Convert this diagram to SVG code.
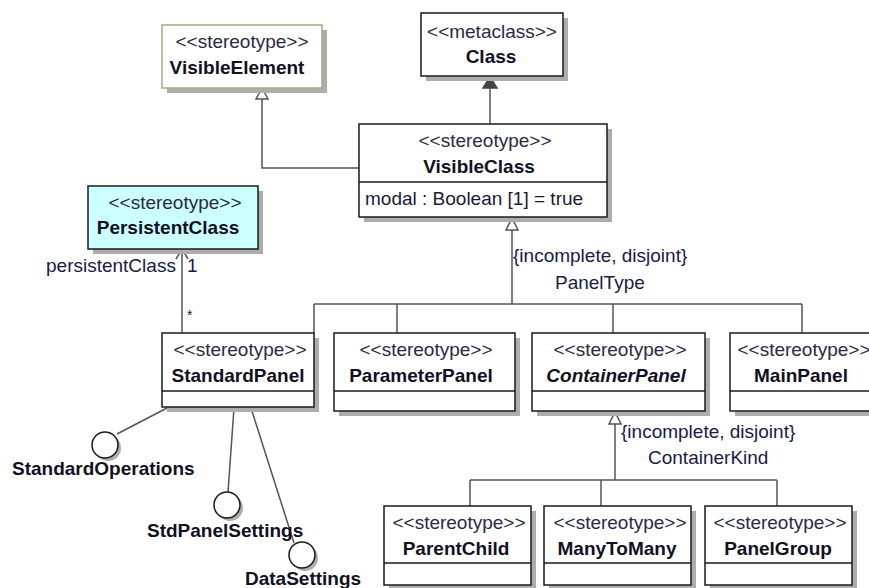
<svg xmlns="http://www.w3.org/2000/svg" width="869" height="588" viewBox="0 0 869 588">
  <style>
    text { font-family: "Liberation Sans", Arial, sans-serif; font-size: 19px; fill: #1a1a33; }
    .st { fill: #2a2a44; text-anchor: middle; }
    .nm { font-weight: bold; fill: #111122; text-anchor: middle; }
    .it { font-style: italic; }
    .lbl { fill: #1a1a44; }
    .ifc { font-weight: bold; fill: #111122; }
    .box { fill: #ffffff; stroke: #1a1a1a; stroke-width: 1.5; }
    .shadow { fill: #adadad; }
    .div { stroke: #1a1a1a; stroke-width: 1.5; }
    .conn { fill: none; stroke: #555555; stroke-width: 1.5; }
    .hollow { fill: #ffffff; stroke: #555555; stroke-width: 1.5; }
    .solid { fill: #444444; stroke: #444444; stroke-width: 1.5; }
    .lolli { fill: #ffffff; stroke: #1a1a1a; stroke-width: 1.5; }
  </style>

  <!-- connectors -->
  <g id="connectors">
    <!-- VisibleClass generalizes VisibleElement -->
    <path class="conn" d="M359,168 H262 V99"/>
    <path class="hollow" d="M262,88 L256,99 L268,99 Z"/>
    <!-- VisibleClass extends metaclass Class -->
    <path class="conn" d="M490,124 V88"/>
    <path class="solid" d="M490,77 L483,88 L497,88 Z"/>
    <!-- PanelType generalization set -->
    <path class="conn" d="M512,230 V304 M314,304 H802 M314,304 V333 M397,304 V333 M613,304 V333 M802,304 V333"/>
    <path class="hollow" d="M512,218 L506,230 L518,230 Z"/>
    <!-- ContainerKind generalization set -->
    <path class="conn" d="M615,424 V480 M470,480 H777 M470,480 V506 M601,480 V506 M777,480 V506"/>
    <path class="hollow" d="M615,412 L609,424 L621,424 Z"/>
    <!-- association StandardPanel -> PersistentClass -->
    <path class="conn" d="M182,333 V249 M176,259 L182,249 L188,259"/>
    <!-- provided interfaces -->
    <path class="conn" d="M167,408 L117,434 M234,408 L228,492 M251,408 L294,543"/>
  </g>

  <!-- association / generalization set labels -->
  <g id="labels">
    <text class="lbl" x="46" y="272">persistentClass</text>
    <text class="lbl" x="187" y="272">1</text>
    <text class="lbl" x="187" y="320" style="font-size:14px">*</text>
    <text class="lbl" x="513" y="262">{incomplete, disjoint}</text>
    <text class="lbl" x="555" y="289">PanelType</text>
    <text class="lbl" x="621" y="438">{incomplete, disjoint}</text>
    <text class="lbl" x="648" y="464">ContainerKind</text>
  </g>

  <g id="VisibleElement">
    <rect class="shadow" x="167" y="30" width="160" height="63"/>
    <rect class="box" x="162" y="25" width="160" height="63" style="stroke:#a9a97e"/>
    <text class="st" x="242" y="48">&lt;&lt;stereotype&gt;&gt;</text>
    <text class="nm" x="237" y="74">VisibleElement</text>
  </g>

  <g id="Class">
    <rect class="shadow" x="426" y="18" width="142" height="63"/>
    <rect class="box" x="421" y="13" width="142" height="63"/>
    <text class="st" x="492" y="38">&lt;&lt;metaclass&gt;&gt;</text>
    <text class="nm" x="491" y="63">Class</text>
  </g>

  <g id="VisibleClass">
    <rect class="shadow" x="364" y="129" width="248" height="93"/>
    <rect class="box" x="359" y="124" width="248" height="93"/>
    <line class="div" x1="359" y1="182" x2="607" y2="182"/>
    <text class="st" x="485" y="147">&lt;&lt;stereotype&gt;&gt;</text>
    <text class="nm" x="479" y="173">VisibleClass</text>
    <text x="365" y="205">modal : Boolean [1] = true</text>
  </g>

  <g id="PersistentClass">
    <rect class="shadow" x="93" y="191" width="170" height="63"/>
    <rect class="box" x="88" y="186" width="170" height="63" style="fill:#ccffff"/>
    <text class="st" x="175" y="209">&lt;&lt;stereotype&gt;&gt;</text>
    <text class="nm" x="168" y="234">PersistentClass</text>
  </g>

  <g id="StandardPanel">
    <rect class="shadow" x="167" y="338" width="152" height="74"/>
    <rect class="box" x="162" y="333" width="152" height="74"/>
    <line class="div" x1="162" y1="391" x2="314" y2="391"/>
    <text class="st" x="240" y="356">&lt;&lt;stereotype&gt;&gt;</text>
    <text class="nm" x="238" y="382">StandardPanel</text>
  </g>

  <g id="ParameterPanel">
    <rect class="shadow" x="339" y="338" width="181" height="78"/>
    <rect class="box" x="334" y="333" width="181" height="78"/>
    <line class="div" x1="334" y1="391" x2="515" y2="391"/>
    <text class="st" x="426" y="356">&lt;&lt;stereotype&gt;&gt;</text>
    <text class="nm" x="421" y="382">ParameterPanel</text>
  </g>

  <g id="ContainerPanel">
    <rect class="shadow" x="537" y="338" width="173" height="78"/>
    <rect class="box" x="532" y="333" width="173" height="78"/>
    <line class="div" x1="532" y1="391" x2="705" y2="391"/>
    <text class="st" x="620" y="356">&lt;&lt;stereotype&gt;&gt;</text>
    <text class="nm it" x="616" y="382">ContainerPanel</text>
  </g>

  <g id="MainPanel">
    <rect class="shadow" x="735" y="338" width="146" height="78"/>
    <rect class="box" x="730" y="333" width="146" height="78"/>
    <line class="div" x1="730" y1="391" x2="876" y2="391"/>
    <text class="st" x="804" y="356">&lt;&lt;stereotype&gt;&gt;</text>
    <text class="nm" x="801" y="382">MainPanel</text>
  </g>

  <g id="ParentChild">
    <rect class="shadow" x="389" y="511" width="147" height="79"/>
    <rect class="box" x="384" y="506" width="147" height="79"/>
    <line class="div" x1="384" y1="563" x2="531" y2="563"/>
    <text class="st" x="459" y="529">&lt;&lt;stereotype&gt;&gt;</text>
    <text class="nm" x="456" y="555">ParentChild</text>
  </g>

  <g id="ManyToMany">
    <rect class="shadow" x="549" y="511" width="147" height="79"/>
    <rect class="box" x="544" y="506" width="147" height="79"/>
    <line class="div" x1="544" y1="563" x2="691" y2="563"/>
    <text class="st" x="620" y="529">&lt;&lt;stereotype&gt;&gt;</text>
    <text class="nm" x="617" y="555">ManyToMany</text>
  </g>

  <g id="PanelGroup">
    <rect class="shadow" x="710" y="511" width="147" height="79"/>
    <rect class="box" x="705" y="506" width="147" height="79"/>
    <line class="div" x1="705" y1="563" x2="852" y2="563"/>
    <text class="st" x="780" y="529">&lt;&lt;stereotype&gt;&gt;</text>
    <text class="nm" x="778" y="555">PanelGroup</text>
  </g>

  <g id="StandardOperations">
    <circle class="shadow" cx="108" cy="448" r="13"/>
    <circle class="lolli" cx="105" cy="445" r="13"/>
    <text class="ifc" x="12" y="475">StandardOperations</text>
  </g>

  <g id="StdPanelSettings">
    <circle class="shadow" cx="230" cy="508" r="13"/>
    <circle class="lolli" cx="227" cy="505" r="13"/>
    <text class="ifc" x="147" y="537">StdPanelSettings</text>
  </g>

  <g id="DataSettings">
    <circle class="shadow" cx="305" cy="558" r="13"/>
    <circle class="lolli" cx="302" cy="555" r="13"/>
    <text class="ifc" x="245" y="585">DataSettings</text>
  </g>
</svg>
